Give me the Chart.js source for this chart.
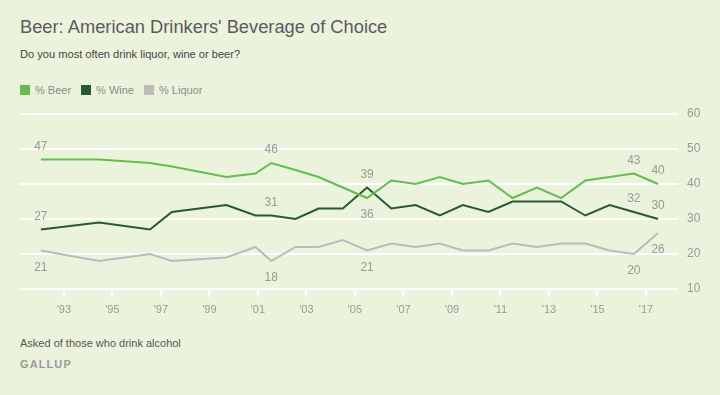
<!DOCTYPE html>
<html>
<head>
<meta charset="utf-8">
<style>
  html, body { margin: 0; padding: 0; background: #ECF3DD; }
  body { width: 720px; height: 395px; position: relative; overflow: hidden; font-family: "Liberation Sans", Arial, sans-serif; }
  .title { position: absolute; left: 20px; top: 16px; font-size: 18.3px; color: #5b5b5b; white-space: nowrap; }
  .subtitle { position: absolute; left: 20px; top: 48px; font-size: 11.1px; color: #444; }
  .legend { position: absolute; left: 20px; top: 84px; font-size: 11px; color: #8a8a8a; display: flex; }
  .legend span.item { display: flex; align-items: center; margin-right: 10px; }
  .legend span.box { width: 10px; height: 10px; display: inline-block; margin-right: 5px; }
  .note { position: absolute; left: 20px; top: 337px; font-size: 11px; color: #555; }
  .brand { position: absolute; left: 20px; top: 358px; font-size: 11px; color: #999; letter-spacing: 1.1px; font-weight: bold; }
  #chart { position: absolute; left: 0; top: 0; }
</style>
</head>
<body>
<div class="title">Beer: American Drinkers' Beverage of Choice</div>
<div class="subtitle">Do you most often drink liquor, wine or beer?</div>
<div class="legend">
  <span class="item"><span class="box" style="background:#63BE4F"></span>% Beer</span>
  <span class="item"><span class="box" style="background:#255B33"></span>% Wine</span>
  <span class="item"><span class="box" style="background:#BBBBBB"></span>% Liquor</span>
</div>
<div class="note">Asked of those who drink alcohol</div>
<div class="brand">GALLUP</div>
<canvas id="chart" width="720" height="395"></canvas>

<script src="https://cdn.jsdelivr.net/npm/chart.js"></script>
<script>
    // survey dates as decimal years
    const years = [1992.05, 1994.45, 1996.55, 1997.45, 1999.7, 2000.9, 2001.55, 2002.55, 2003.5, 2004.5,
        2005.5, 2006.5, 2007.5, 2008.5, 2009.45, 2010.5, 2011.5, 2012.5, 2013.5, 2014.5, 2015.5, 2016.5, 2017.5];
    const beer = [47, 47, 46, 45, 42, 43, 46, 44, 42, 39, 36, 41, 40, 42, 40, 41, 36, 39, 36, 41, 42, 43, 40];
    const wine = [27, 29, 27, 32, 34, 31, 31, 30, 33, 33, 39, 33, 34, 31, 34, 32, 35, 35, 35, 31, 34, 32, 30];
    const liquor = [21, 18, 20, 18, 19, 22, 18, 22, 22, 24, 21, 23, 22, 23, 21, 21, 23, 22, 23, 23, 21, 20, 26];

    const xTicks = [1993, 1995, 1997, 1999, 2001, 2003, 2005, 2007, 2009, 2011, 2013, 2015, 2017];
    const yTicks = [10, 20, 30, 40, 50, 60];

    // which points get a value label, and on which side
    const beerLabels = { 0: 'above', 6: 'above', 10: 'below', 21: 'above', 22: 'above' };
    const wineLabels = { 0: 'above', 6: 'above', 10: 'above', 21: 'above', 22: 'above' };
    const liquorLabels = { 0: 'below', 6: 'below', 10: 'below', 21: 'below', 22: 'below' };

    const toPoints = arr => arr.map((v, i) => ({ x: years[i], y: v }));

    const valueLabels = {
        id: 'valueLabels',
        afterDatasetsDraw(chart) {
            const c = chart.ctx;
            c.save();
            c.font = '12px "Liberation Sans", Arial, sans-serif';
            c.fillStyle = '#999';
            c.textAlign = 'center';
            c.textBaseline = 'middle';
            chart.data.datasets.forEach((ds, di) => {
                const meta = chart.getDatasetMeta(di);
                Object.entries(ds.labelAt).forEach(([idx, side]) => {
                    const pt = meta.data[idx];
                    const dy = side === 'above' ? -13 : 17;
                    c.fillText(String(ds.data[idx].y), pt.x, pt.y + dy);
                });
            });
            c.restore();
        }
    };

    const ctx = document.getElementById('chart').getContext('2d');
    new Chart(ctx, {
        type: 'line',
        data: {
            datasets: [
                { label: '% Beer', data: toPoints(beer), borderColor: '#63BE4F', labelAt: beerLabels },
                { label: '% Wine', data: toPoints(wine), borderColor: '#255B33', labelAt: wineLabels },
                { label: '% Liquor', data: toPoints(liquor), borderColor: '#BBBBBB', labelAt: liquorLabels }
            ]
        },
        options: {
            responsive: false,
            animation: false,
            elements: {
                line: { borderWidth: 2, tension: 0 },
                point: { radius: 0 }
            },
            layout: { padding: { left: 20, top: 114, right: 0, bottom: 0 } },
            plugins: {
                legend: { display: false },
                tooltip: { enabled: false }
            },
            scales: {
                x: {
                    type: 'linear',
                    min: 1991.19,
                    max: 2018.32,
                    afterBuildTicks: scale => { scale.ticks = xTicks.map(v => ({ value: v })); },
                    afterFit: scale => { scale.height = 395 - 289; },
                    grid: { drawOnChartArea: false, drawTicks: true, tickLength: 8, color: '#ffffff', lineWidth: 2 },
                    border: { display: false },
                    ticks: {
                        autoSkip: false,
                        maxRotation: 0,
                        padding: 6,
                        color: '#999',
                        font: { size: 11, family: '"Liberation Sans", Arial, sans-serif' },
                        callback: v => "'" + String(v).slice(2)
                    }
                },
                y: {
                    position: 'right',
                    min: 10,
                    max: 60,
                    afterBuildTicks: scale => { scale.ticks = yTicks.map(v => ({ value: v })); },
                    afterFit: scale => { scale.width = 42; },
                    grid: { color: '#ffffff', lineWidth: 2, drawTicks: false },
                    border: { display: false },
                    ticks: {
                        padding: 9,
                        color: '#999',
                        font: { size: 12, family: '"Liberation Sans", Arial, sans-serif' }
                    }
                }
            }
        },
        plugins: [valueLabels]
    });
</script>
</body>
</html>
